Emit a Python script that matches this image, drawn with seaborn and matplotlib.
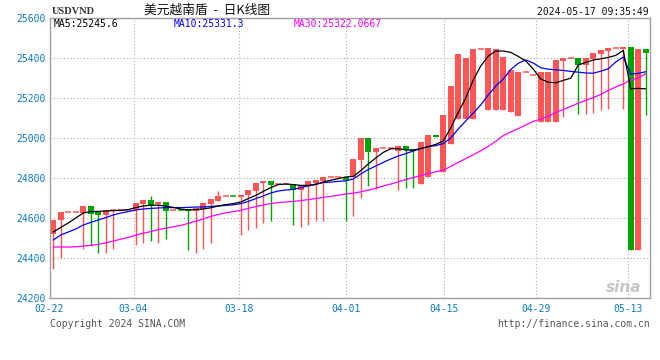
import matplotlib
matplotlib.use("Agg")
import matplotlib.pyplot as plt
import numpy as np
import pandas as pd
import seaborn as sns

# ---------------- data ----------------
tick_labels = ["02-22", "03-04", "03-18", "04-01", "04-15", "04-29", "05-13"]
tick_pos = [-0.5, 10.7, 24.8, 39.0, 52.1, 64.4, 76.6]

opens = [24522, 24588, 24632, 24632, 24625, 24662, 24632, 24617, 24638, 24638,
         24638, 24642, 24672, 24692, 24668, 24682, 24640, 24641, 24643, 24637,
         24643, 24672, 24687, 24710, 24711, 24703, 24715, 24737, 24773, 24787,
         24768, 24768, 24768, 24738, 24766, 24777, 24785, 24807, 24807, 24807,
         24803, 24890, 25000, 24930, 24952, 24952, 24937, 24960, 24947, 24770,
         24807, 25015, 24832, 24970, 25097, 25097, 25097, 25443, 25140, 25140,
         25140, 25132, 25110, 25328, 25315, 25082, 25082, 25082, 25387, 25398,
         25400, 25367, 25397, 25420, 25437, 25452, 25445, 25455, 24440, 25445]
closes = [24592, 24632, 24632, 24632, 24662, 24622, 24617, 24642, 24638, 24638,
          24638, 24677, 24692, 24662, 24682, 24637, 24640, 24640, 24633, 24650,
          24677, 24693, 24712, 24710, 24710, 24715, 24742, 24777, 24787, 24767,
          24768, 24768, 24742, 24767, 24785, 24790, 24807, 24807, 24807, 24790,
          24895, 25000, 24930, 24952, 24952, 24952, 24960, 24940, 24937, 24980,
          25015, 25005, 25115, 25262, 25420, 25400, 25445, 25443, 25450, 25445,
          25405, 25340, 25330, 25328, 25315, 25330, 25330, 25390, 25400, 25398,
          25367, 25400, 25425, 25440, 25450, 25452, 25455, 24440, 25445, 25427]
highs = [24592, 24632, 24632, 24632, 24662, 24662, 24632, 24642, 24638, 24638,
         24638, 24677, 24692, 24712, 24682, 24682, 24640, 24641, 24643, 24650,
         24677, 24693, 24733, 24710, 24711, 24715, 24742, 24777, 24787, 24787,
         24768, 24768, 24768, 24767, 24785, 24790, 24807, 24807, 24807, 24807,
         24895, 25000, 25000, 24952, 24952, 24952, 24960, 24960, 24947, 24980,
         25015, 25015, 25115, 25262, 25420, 25400, 25445, 25443, 25450, 25445,
         25405, 25340, 25330, 25328, 25315, 25330, 25330, 25390, 25400, 25398,
         25400, 25400, 25425, 25440, 25450, 25452, 25455, 25455, 25445, 25445]
lows = [24343, 24400, 24632, 24632, 24447, 24460, 24427, 24427, 24447, 24638,
        24638, 24467, 24477, 24487, 24477, 24497, 24640, 24640, 24438, 24427,
        24447, 24477, 24687, 24710, 24710, 24515, 24538, 24550, 24577, 24585,
        24768, 24768, 24563, 24555, 24563, 24585, 24585, 24807, 24807, 24585,
        24610, 24700, 24760, 24747, 24952, 24952, 24740, 24748, 24748, 24770,
        24807, 25005, 24832, 24970, 25097, 25097, 25097, 25443, 25140, 25140,
        25140, 25132, 25110, 25328, 25315, 25082, 25082, 25082, 25107, 25398,
        25120, 25120, 25127, 25140, 25147, 25452, 25145, 24440, 24440, 25115]

ma5 = [24530, 24553, 24575, 24600, 24625, 24632, 24633, 24635, 24637, 24638,
       24642, 24652, 24660, 24664, 24664, 24660, 24653, 24645, 24640, 24642,
       24645, 24651, 24660, 24667, 24672, 24680, 24697, 24713, 24733, 24752,
       24767, 24770, 24767, 24763, 24763, 24767, 24780, 24789, 24797, 24805,
       24808, 24837, 24870, 24900, 24928, 24946, 24947, 24940, 24940, 24947,
       24957, 24968, 24985, 25050, 25128, 25200, 25290, 25360, 25410, 25435,
       25435, 25428, 25408, 25385, 25345, 25295, 25279, 25276, 25288, 25299,
       25365, 25378, 25390, 25396, 25403, 25413, 25438, 25246, 25248, 25245.6]
ma10 = [24490, 24515, 24530, 24545, 24565, 24578, 24590, 24602, 24615, 24625,
        24632, 24640, 24645, 24648, 24650, 24652, 24652, 24652, 24653, 24655,
        24655, 24658, 24660, 24663, 24666, 24672, 24683, 24697, 24710, 24725,
        24735, 24740, 24743, 24752, 24760, 24770, 24777, 24780, 24783, 24786,
        24795, 24820, 24842, 24860, 24878, 24895, 24910, 24922, 24935, 24947,
        24957, 24962, 24972, 25000, 25045, 25085, 25125, 25165, 25215, 25260,
        25295, 25342, 25374, 25390, 25375, 25351, 25344, 25341, 25338, 25333,
        25329, 25325, 25324, 25334, 25346, 25380, 25405, 25320, 25323, 25331.3]
ma30 = [24455, 24455, 24455, 24456, 24460, 24463, 24468, 24476, 24485, 24494,
        24503, 24514, 24524, 24532, 24542, 24549, 24556, 24563, 24573, 24584,
        24595, 24608, 24617, 24626, 24632, 24638, 24648, 24657, 24665, 24672,
        24677, 24680, 24683, 24687, 24692, 24697, 24703, 24708, 24714, 24720,
        24724, 24731, 24739, 24749, 24760, 24770, 24781, 24792, 24803, 24812,
        24822, 24831, 24839, 24858, 24878, 24897, 24916, 24936, 24958, 24983,
        25012, 25030, 25047, 25065, 25083, 25095, 25108, 25128, 25142, 25158,
        25174, 25188, 25202, 25218, 25238, 25255, 25270, 25290, 25300, 25322.0667]

y_ticks = [24200, 24400, 24600, 24800, 25000, 25200, 25400, 25600]

# ---------------- style ----------------
sns.set_theme(style="white")
plt.rcParams['font.family'] = ['DejaVu Sans Mono', 'Noto Sans CJK SC']

RED = "#ff5555"
GREEN = "#00a400"
BLUE_TXT = "#0a78c8"
W, H = 660, 360

fig = plt.figure(figsize=(6.6, 3.6), dpi=100)
ax = fig.add_axes([49.5 / W, 62 / H, 600 / W, 280 / H])

df = pd.DataFrame({"idx": np.arange(len(closes)), "open": opens, "close": closes,
                   "high": highs, "low": lows, "ma5": ma5, "ma10": ma10, "ma30": ma30})

# candles
for r in df.itertuples():
    col = RED if r.close >= r.open else GREEN
    ax.vlines(r.idx, r.low, r.high, color=col, lw=1.0, zorder=2)
    if abs(r.close - r.open) < 4:
        ax.hlines(r.close, r.idx - 0.4, r.idx + 0.4, color=col, lw=1.1, zorder=2)
    else:
        lo = min(r.open, r.close)
        ax.bar(r.idx, abs(r.close - r.open), bottom=lo, width=0.8, color=col,
               linewidth=0, zorder=2)

# moving averages
sns.lineplot(data=df, x="idx", y="ma30", color="#ff00ff", lw=0.9, ax=ax, zorder=3,
             estimator=None, sort=False)
sns.lineplot(data=df, x="idx", y="ma10", color="#0000ff", lw=0.9, ax=ax, zorder=3,
             estimator=None, sort=False)
sns.lineplot(data=df, x="idx", y="ma5", color="#000000", lw=0.9, ax=ax, zorder=4,
             estimator=None, sort=False)

ax.set_xlim(-0.5, len(closes) - 0.5)
ax.set_ylim(24200, 25600)
ax.set_xlabel("")
ax.set_ylabel("")
ax.set_yticks(y_ticks)
ax.set_yticklabels([str(v) for v in y_ticks])
ax.set_xticks(tick_pos)
ax.set_xticklabels(tick_labels)
ax.tick_params(axis="y", length=0, pad=2.5, labelsize=7, labelcolor=BLUE_TXT)
ax.tick_params(axis="x", length=0, pad=4, labelsize=7, labelcolor=BLUE_TXT)

ax.grid(True, axis="both", color="#aaaaaa", linestyle=(0, (1, 2)), lw=0.8, zorder=0)
ax.set_axisbelow(True)
for s in ax.spines.values():
    s.set_color("#a0a0a0")
    s.set_linewidth(1.0)
    s.set_visible(True)
    s.set_zorder(5)
ax.set_facecolor("white")


def ftext(x, y, s, **kw):
    fig.text(x / W, 1 - y / H, s, **kw)


ftext(52, 11, "USDVND", fontsize=7.5, color="#333333", va="center", ha="left",
      family="Liberation Serif", fontweight="bold")
ftext(207, 10, "美元越南盾  -  日K线图", fontsize=9.2, color="#111111", va="center",
      ha="center", family=["Noto Sans CJK SC", "DejaVu Sans"])
ftext(649, 12, "2024-05-17 09:35:49", fontsize=7, color="#111111", va="center", ha="right")
ftext(54, 24, "MA5:25245.6", fontsize=7, color="#000000", va="center", ha="left")
ftext(174, 24, "MA10:25331.3", fontsize=7, color="#0000ff", va="center", ha="left")
ftext(294, 24, "MA30:25322.0667", fontsize=7, color="#ff00ff", va="center", ha="left")
ftext(50, 324, "Copyright 2024 SINA.COM", fontsize=7, color="#555555", va="center", ha="left")
ftext(650, 324, "http://finance.sina.com.cn", fontsize=7, color="#555555", va="center", ha="right")
ftext(624, 288, "sina", fontsize=11, color="#bbbbbb", va="center", ha="center",
      family="DejaVu Sans", fontweight="bold", fontstyle="italic", alpha=0.85)

fig.savefig("out.png", dpi=100, facecolor="white")
